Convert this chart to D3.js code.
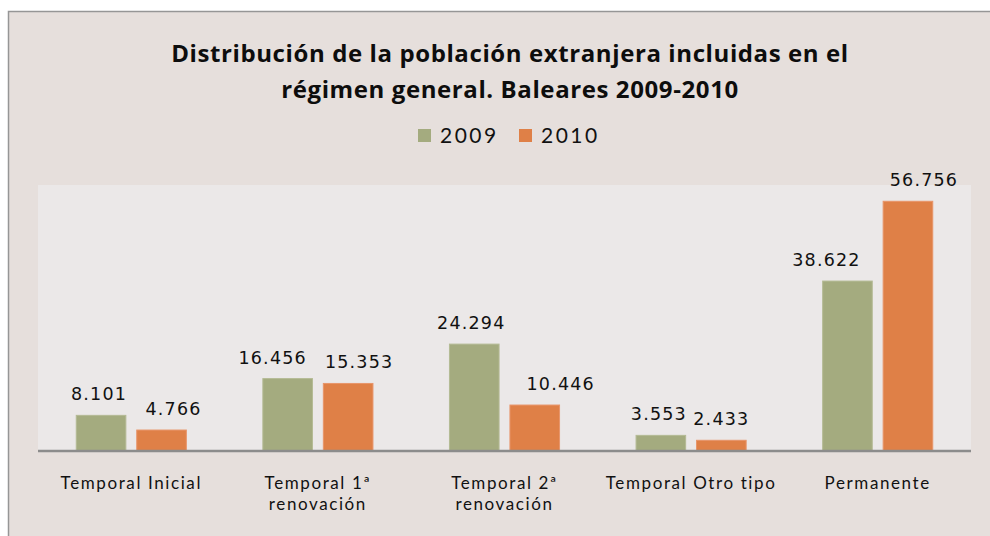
<!DOCTYPE html>
<html>
<head>
<meta charset="utf-8">
<script src="https://cdn.jsdelivr.net/npm/d3@7"></script>
<style>
  body { margin: 0; background: #fff; }
  svg { display: block; }
</style>
</head>
<body>
<div id="chart"></div>
<script>
// values
const categories = [
  ["Temporal Inicial"],
  ["Temporal 1ª", "renovación"],
  ["Temporal 2ª", "renovación"],
  ["Temporal Otro tipo"],
  ["Permanente"]
];
const series = ["2009", "2010"];
const values2009 = [8101, 16456, 24294, 3553, 38622];
const values2010 = [4766, 15353, 10446, 2433, 56756];
// horizontal nudges of the data labels, as placed in the original
const labelNudge2009 = [-2, -15, -3, -2, -21];
const labelNudge2010 = [12, 11, 26, 0, 16];
const colors = ["#a4ab7f", "#df8047"];
const titleLines = [
  "Distribución de la población extranjera incluidas en el",
  "régimen general. Baleares 2009-2010"
];

const W = 990, H = 536;
const svg = d3.select("#chart").append("svg")
  .attr("width", W)
  .attr("height", H);

// chart area with border
svg.append("rect")
  .attr("x", 8.5).attr("y", 11.5)
  .attr("width", W + 10).attr("height", H + 10)
  .attr("fill", "#e6dfdc")
  .attr("stroke", "#969696")
  .attr("stroke-width", 1.5);

const plot = {left: 38, right: 971, top: 185, bottom: 451};

svg.append("rect")
  .attr("x", plot.left).attr("y", plot.top)
  .attr("width", plot.right - plot.left)
  .attr("height", plot.bottom - plot.top)
  .attr("fill", "#ebe8e8");

const x0 = d3.scaleBand()
  .domain(d3.range(categories.length))
  .range([plot.left, plot.right])
  .paddingInner(0.41)
  .paddingOuter(0.205);
const x1 = d3.scaleBand()
  .domain(series)
  .range([0, x0.bandwidth()])
  .paddingInner(0.18);
const y = d3.scaleLinear()
  .domain([0, 60000])
  .range([plot.bottom, plot.top + 2]);

const nudges = [labelNudge2009, labelNudge2010];
const data = categories.map((c, i) => ({i, vals: [values2009[i], values2010[i]]}));
const fmt = v => d3.format(",")(v).replace(/,/g, ".");

const groups = svg.append("g").selectAll("g")
  .data(data)
  .join("g")
  .attr("transform", d => `translate(${x0(d.i)},0)`);

groups.selectAll("rect")
  .data(d => d.vals.map((v, k) => ({v, k})))
  .join("rect")
  .attr("x", d => x1(series[d.k]))
  .attr("y", d => y(d.v))
  .attr("width", x1.bandwidth())
  .attr("height", d => y(0) - y(d.v))
  .attr("fill", d => colors[d.k])
  .attr("stroke", d => d.k === 0 ? "#b4ba94" : "#e8956a")
  .attr("stroke-width", 1);

groups.selectAll("text.val")
  .data(d => d.vals.map((v, k) => ({v, k, i: d.i})))
  .join("text")
  .attr("class", "val")
  .attr("x", d => x1(series[d.k]) + x1.bandwidth() / 2 + nudges[d.k][d.i])
  .attr("y", d => y(d.v) - 15)
  .attr("text-anchor", "middle")
  .attr("font-family", "DejaVu Sans, sans-serif")
  .attr("font-size", 17.5)
  .attr("letter-spacing", 1.2)
  .attr("fill", "#111")
  .text(d => fmt(d.v));

// x axis
const xAxis = svg.append("g")
  .attr("transform", `translate(0,${plot.bottom})`)
  .call(d3.axisBottom(x0).tickSize(0).tickFormat(""));
xAxis.select(".domain")
  .attr("stroke", "#8c8c8c")
  .attr("stroke-width", 2.5)
  .attr("d", `M${plot.left},0H${plot.right}`);

xAxis.selectAll(".tick text").remove();
xAxis.selectAll(".tick").append("text")
  .attr("text-anchor", "middle")
  .attr("font-family", "Lato, sans-serif")
  .attr("font-size", 17)
  .attr("letter-spacing", 1.6)
  .attr("fill", "#111")
  .selectAll("tspan")
  .data((d, i) => categories[i])
  .join("tspan")
  .attr("x", 0)
  .attr("y", (d, j) => 38 + j * 21)
  .text(d => d);

// title
svg.append("text")
  .attr("x", 510)
  .attr("text-anchor", "middle")
  .attr("font-family", "Open Sans, sans-serif")
  .attr("font-weight", "bold")
  .attr("font-size", 24)
  .attr("letter-spacing", 0.6)
  .attr("fill", "#0d0d0d")
  .selectAll("tspan")
  .data(titleLines)
  .join("tspan")
  .attr("x", 510)
  .attr("y", (d, i) => 62 + i * 36)
  .text(d => d);

// legend
const legend = svg.append("g")
  .attr("transform", "translate(418,129)");
const items = legend.selectAll("g")
  .data(series)
  .join("g")
  .attr("transform", (d, i) => `translate(${i * 101},0)`);
items.append("rect")
  .attr("width", 13).attr("height", 13)
  .attr("fill", (d, i) => colors[i]);
items.append("text")
  .attr("x", 22).attr("y", 14)
  .attr("font-family", "Lato, sans-serif")
  .attr("font-size", 21)
  .attr("letter-spacing", 2.5)
  .attr("fill", "#111")
  .text(d => d);
</script>
</body>
</html>
